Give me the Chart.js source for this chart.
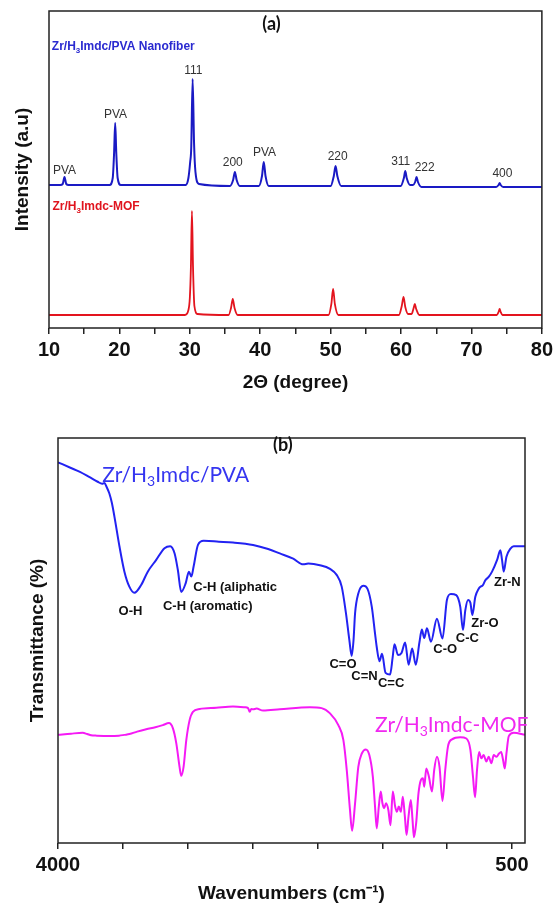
<!DOCTYPE html>
<html>
<head>
<meta charset="utf-8">
<script src="https://cdn.jsdelivr.net/npm/chart.js@4.4.1/dist/chart.umd.min.js"></script>
<style>
  html, body { margin: 0; padding: 0; background: #fff; }
  #wrap { position: relative; width: 557px; height: 905px; }
  canvas { position: absolute; left: 0; }
  #xrd { top: 0; }
  #ftir { top: 400px; }
</style>
</head>
<body>
<div id="wrap">
  <canvas id="xrd" width="557" height="400"></canvas>
  <canvas id="ftir" width="557" height="505"></canvas>
</div>
<script>
// ---- (a) XRD data ----
const xrdTicks = [10, 15, 20, 25, 30, 35, 40, 45, 50, 55, 60, 65, 70, 75, 80];

const nanofiberTheta = [10, 11.6, 11.95, 12.2, 12.45, 12.8, 18.6, 19.05, 19.25, 19.4, 19.55, 19.75, 20.2,
  29.4, 29.8, 30.05, 30.2, 30.4, 30.6, 30.8, 31.3, 35.7, 36.15, 36.4, 36.65, 37.1,
  39.8, 40.25, 40.5, 40.75, 41.2, 50.0, 50.45, 50.7, 50.95, 51.5, 59.95, 60.4, 60.6, 60.8, 61.3,
  61.7, 62.0, 62.2, 62.4, 62.9, 73.5, 73.85, 74.0, 74.15, 74.5, 80];
const nanofiberIntensity = [143, 143, 144, 151, 144, 143, 143, 150, 176, 205, 176, 150, 143,
  143, 150, 166, 180, 249, 185, 156, 144, 142, 148, 156, 148, 142,
  142, 152, 166, 152, 142, 142, 152, 162, 152, 142, 142, 150, 157, 150, 143,
  143, 146, 151, 146, 141, 141, 143, 145, 143, 141, 141];

const mofTheta = [10, 29.3, 29.8, 30.0, 30.15, 30.3, 30.45, 30.65, 31.1, 35.5, 35.85, 36.1, 36.35, 36.8,
  49.7, 50.1, 50.35, 50.6, 51.1, 59.7, 60.1, 60.35, 60.6, 61.0, 61.5, 61.75, 61.95, 62.15, 62.6,
  73.6, 73.85, 74.0, 74.15, 74.4, 80];
const mofIntensity = [13, 13, 18, 30, 60, 117, 62, 22, 14, 13, 20, 29, 20, 13,
  13, 24, 39, 24, 13, 13, 22, 31, 21, 14, 14, 19, 24, 19, 13,
  13, 16, 19, 16, 13, 13];

const xrdPeakLabels = ['PVA', 'PVA', '111', '200', 'PVA', '220', '311', '222', '400'];
const xrdPeakTheta = [12.2, 19.45, 30.5, 36.1, 40.6, 51.0, 59.95, 63.35, 74.4];
const xrdPeakLabelY = [157, 213, 257, 165, 175, 171, 166, 160, 154];

// ---- (b) FTIR data ----
const ftirTicks = [4000, 3500, 3000, 2500, 2000, 1500, 1000, 500];
const ftirTickLabels = [4000, 500];

const pvaWavenumber = [4000, 3900, 3835, 3760, 3694, 3660, 3642, 3625, 3604, 3585, 3565, 3526, 3488, 3450,
  3411, 3359, 3308, 3243, 3179, 3135, 3101, 3076, 3050, 3016, 2991, 2972, 2955, 2921, 2877, 2760,
  2651, 2496, 2380, 2290, 2187, 2110, 2071, 1981, 1903, 1852, 1813, 1780, 1754, 1736, 1722, 1710,
  1685, 1646, 1615, 1581, 1556, 1543, 1522, 1502, 1475, 1440, 1420, 1406, 1379, 1352, 1324, 1297,
  1270, 1242, 1214, 1195, 1177, 1156, 1125, 1079, 1036, 1002, 971, 930, 899, 878, 860, 839, 821,
  806, 783, 757, 744, 726, 705, 680, 654, 615, 590, 577, 564, 543, 512, 487, 400];
const pvaTransmittance = [94.0, 92.6, 91.7, 90.4, 89.2, 88.7, 88.9, 87.9, 86.3, 84.0, 80.6, 73.2, 67.0, 63.3,
  61.8, 63.7, 67.0, 69.9, 72.8, 73.3, 71.5, 67.4, 62.0, 64.1, 67.0, 65.8, 68.2, 73.6, 74.6, 74.4,
  74.2, 73.6, 72.6, 71.5, 70.2, 68.8, 69.0, 68.6, 67.7, 66.2, 63.3, 56.7, 50.1, 46.2, 50.0, 56.7,
  61.6, 63.5, 62.8, 58.3, 51.7, 48.4, 44.9, 46.7, 42.0, 41.6, 45.9, 49.1, 46.4, 46.9, 49.5, 44.0,
  48.0, 44.0, 49.5, 52.7, 50.6, 53.0, 49.7, 55.4, 50.5, 60.0, 61.5, 61.2, 58.3, 52.6, 57.5, 60.0, 59.3,
  56.3, 60.8, 62.8, 63.3, 63.6, 64.9, 65.7, 67.0, 69.9, 72.3, 69.9, 67.0, 70.7, 72.7, 73.3, 73.3];

const mofWavenumber = [4000, 3900, 3810, 3775, 3745, 3700, 3604, 3530, 3488, 3449, 3390, 3320, 3250, 3192,
  3145, 3114, 3088, 3063, 3050, 3032, 3011, 2985, 2960, 2908, 2780, 2651, 2560, 2535, 2522, 2510,
  2496, 2470, 2419, 2290, 2058, 1968, 1903, 1839, 1800, 1774, 1749, 1733, 1710, 1685, 1658, 1627,
  1600, 1573, 1556, 1543, 1527, 1512, 1499, 1486, 1471, 1453, 1437, 1419, 1401, 1388, 1373, 1357,
  1342, 1326, 1313, 1298, 1280, 1267, 1256, 1239, 1221, 1202, 1187, 1177, 1161, 1141, 1117, 1100,
  1079, 1059, 1036, 1015, 994, 963, 899, 852, 821, 801, 785, 770, 754, 737, 719, 698, 680, 659,
  641, 620, 600, 584, 569, 556, 543, 525, 487, 400];
const mofTransmittance = [26.7, 27.0, 27.2, 26.9, 26.6, 26.5, 26.4, 26.5, 26.7, 26.9, 27.5, 28.1, 28.6, 29.1,
  29.6, 28.3, 24.6, 18.8, 16.6, 18.8, 25.4, 30.4, 32.4, 33.1, 33.4, 33.7, 33.5, 33.3, 32.4, 33.1,
  33.0, 33.2, 32.7, 33.0, 33.5, 33.3, 32.0, 29.1, 25.4, 18.0, 8.1, 3.0, 9.8, 18.8, 22.1, 23.1,
  21.7, 16.4, 9.0, 3.6, 9.0, 12.7, 9.8, 8.6, 9.8, 8.1, 4.4, 12.7, 9.0, 7.7, 9.0, 7.7,
  11.4, 6.5, 2.0, 6.5, 10.6, 5.7, 1.4, 4.9, 12.3, 15.6, 16.0, 13.9, 18.4, 16.4, 12.7, 18.0,
  21.3, 18.8, 10.4, 18.0, 23.8, 25.6, 26.1, 25.8, 23.0, 16.4, 11.3, 18.0, 22.5, 20.9, 21.7, 20.1, 21.3, 19.7,
  21.7, 21.3, 22.1, 22.5, 20.5, 18.4, 22.1, 26.4, 27.2, 26.7];

const ftirBandLabels = ['O-H', 'C-H (aromatic)', 'C-H (aliphatic', 'C=O', 'C=N', 'C=C', 'C-O', 'C-C', 'Zr-O', 'Zr-N'];
const ftirBandWavenumber = [3441, 2846, 2634, 1803, 1637, 1432, 1015, 844, 709, 536];
const ftirBandY = [57.3, 58.3, 63.2, 44.0, 41.2, 39.3, 47.9, 50.4, 54.3, 64.4];

// ---- helpers ----
const ARIAL = "'Liberation Sans', Arial, sans-serif";
const CALIBRI = "Lato, 'Liberation Sans', sans-serif";
Chart.defaults.font.family = ARIAL;
Chart.defaults.color = '#111';

function toPoints(xs, ys) {
  return xs.map((x, i) => ({ x: x, y: ys[i] }));
}

// draws text, rendering "₃" as a small lowered 3
function drawLabel(ctx, text, x, y, font, color, align) {
  const parts = text.split('₃');
  const main = font.weight + ' ' + font.size + 'px ' + font.family;
  const small = font.weight + ' ' + Math.round(font.size * 0.65) + 'px ' + font.family;
  ctx.save();
  ctx.fillStyle = color;
  ctx.textBaseline = 'middle';
  ctx.textAlign = 'left';
  let w = 0;
  parts.forEach((p, i) => {
    ctx.font = main; w += ctx.measureText(p).width;
    if (i < parts.length - 1) { ctx.font = small; w += ctx.measureText('3').width; }
  });
  let cx = align === 'left' ? x : x - w / 2;
  parts.forEach((p, i) => {
    ctx.font = main; ctx.fillText(p, cx, y); cx += ctx.measureText(p).width;
    if (i < parts.length - 1) {
      ctx.font = small; ctx.fillText('3', cx, y + font.size * 0.3); cx += ctx.measureText('3').width;
    }
  });
  ctx.restore();
}

function framePlugin(items) {
  return {
    id: 'frameAndText',
    afterDatasetsDraw(chart) {
      const { ctx, chartArea: a, scales } = chart;
      ctx.save();
      ctx.strokeStyle = '#222';
      ctx.lineWidth = 1.5;
      ctx.strokeRect(a.left, a.top, a.right - a.left, a.bottom - a.top);
      ctx.restore();
      items.forEach(it => drawLabel(ctx, it.text, scales.x.getPixelForValue(it.x),
        scales.y.getPixelForValue(it.y), it.font, it.color, it.align));
    }
  };
}

function axisX(opts) {
  return {
    type: 'linear',
    min: opts.min, max: opts.max, reverse: !!opts.reverse,
    afterBuildTicks: s => { s.ticks = opts.ticks.map(v => ({ value: v })); },
    afterFit: s => { s.height = opts.height; },
    ticks: {
      autoSkip: false, maxRotation: 0, padding: opts.pad,
      font: { size: 20, weight: 'bold' }, color: '#111',
      callback: opts.label
    },
    grid: { drawOnChartArea: false, drawTicks: true, tickLength: 6, color: '#222', lineWidth: 1.5 },
    border: { display: false },
    title: { display: true, text: opts.title, color: '#111',
      font: { size: 19, weight: 'bold' }, padding: { top: 0, bottom: opts.titlePad } }
  };
}

function axisY(opts) {
  return {
    type: 'linear',
    min: opts.min, max: opts.max,
    afterFit: s => { s.width = opts.width; },
    ticks: { display: false },
    grid: { display: false },
    border: { display: false },
    title: { display: true, text: opts.title, color: '#111',
      font: { size: 19, weight: 'bold' }, padding: { top: opts.titlePad, bottom: 0 } }
  };
}

// ---- (a) XRD chart ----
const peakFont = { size: 12, weight: 'normal', family: ARIAL };
const xrdItems = xrdPeakLabels.map((t, i) => ({
  text: t, x: xrdPeakTheta[i], y: xrdPeakLabelY[i], font: peakFont, color: '#333', align: 'center'
}));
xrdItems.push({ text: '(a)', x: 41.6, y: 304, font: { size: 18, weight: 'bold', family: CALIBRI }, color: '#111', align: 'center' });
xrdItems.push({ text: 'Zr/H₃Imdc/PVA Nanofiber', x: 10.4, y: 281, font: { size: 12, weight: 'bold', family: ARIAL }, color: '#2a2ad0', align: 'left' });
xrdItems.push({ text: 'Zr/H₃Imdc-MOF', x: 10.5, y: 121, font: { size: 12, weight: 'bold', family: ARIAL }, color: '#e0141e', align: 'left' });

new Chart(document.getElementById('xrd'), {
  type: 'line',
  data: {
    datasets: [
      { label: 'Zr/H3Imdc/PVA Nanofiber', data: toPoints(nanofiberTheta, nanofiberIntensity),
        borderColor: '#1a1ac4', borderWidth: 2, pointRadius: 0, cubicInterpolationMode: 'monotone' },
      { label: 'Zr/H3Imdc-MOF', data: toPoints(mofTheta, mofIntensity),
        borderColor: '#e3141e', borderWidth: 1.8, pointRadius: 0, cubicInterpolationMode: 'monotone' }
    ]
  },
  options: {
    responsive: false,
    animation: false,
    layout: { padding: { top: 11, right: 12, left: 0, bottom: 0 } },
    plugins: { legend: { display: false }, tooltip: { enabled: false } },
    scales: {
      x: axisX({ min: 10, max: 80, ticks: xrdTicks, height: 72, pad: 4, titlePad: 6, title: '2Θ (degree)',
        label: v => (v % 10 === 0 ? v : '') }),
      y: axisY({ min: 0, max: 317, width: 49, titlePad: 11, title: 'Intensity (a.u)' })
    }
  },
  plugins: [framePlugin(xrdItems)]
});

// ---- (b) FTIR chart ----
const bandFont = { size: 13, weight: 'bold', family: ARIAL };
const ftirItems = ftirBandLabels.map((t, i) => ({
  text: t, x: ftirBandWavenumber[i], y: ftirBandY[i], font: bandFont, color: '#111', align: 'center'
}));
ftirItems.push({ text: '(b)', x: 2267, y: 98.3, font: { size: 18, weight: 'bold', family: CALIBRI }, color: '#111', align: 'center' });
ftirItems.push({ text: 'Zr/H₃Imdc/PVA', x: 3658, y: 90.9, font: { size: 21, weight: 'normal', family: CALIBRI }, color: '#3535f0', align: 'left' });
ftirItems.push({ text: 'Zr/H₃Imdc-MOF', x: 1556, y: 29.1, font: { size: 21, weight: 'normal', family: CALIBRI }, color: '#f028f0', align: 'left' });

new Chart(document.getElementById('ftir'), {
  type: 'line',
  data: {
    datasets: [
      { label: 'Zr/H3Imdc/PVA', data: toPoints(pvaWavenumber, pvaTransmittance),
        borderColor: '#2222f2', borderWidth: 2, pointRadius: 0, cubicInterpolationMode: 'monotone' },
      { label: 'Zr/H3Imdc-MOF', data: toPoints(mofWavenumber, mofTransmittance),
        borderColor: '#f51af5', borderWidth: 2, pointRadius: 0, cubicInterpolationMode: 'monotone' }
    ]
  },
  options: {
    responsive: false,
    animation: false,
    layout: { padding: { top: 38, right: 32, left: 0, bottom: 0 } },
    plugins: { legend: { display: false }, tooltip: { enabled: false } },
    scales: {
      x: axisX({ min: 400, max: 4000, reverse: true, ticks: ftirTicks, height: 62, pad: 4, titlePad: 0,
        title: 'Wavenumbers (cm⁻¹)', label: v => (ftirTickLabels.includes(v) ? v : '') }),
      y: axisY({ min: 0, max: 100, width: 58, titlePad: 26, title: 'Transmittance (%)' })
    }
  },
  plugins: [framePlugin(ftirItems)]
});
</script>
</body>
</html>
